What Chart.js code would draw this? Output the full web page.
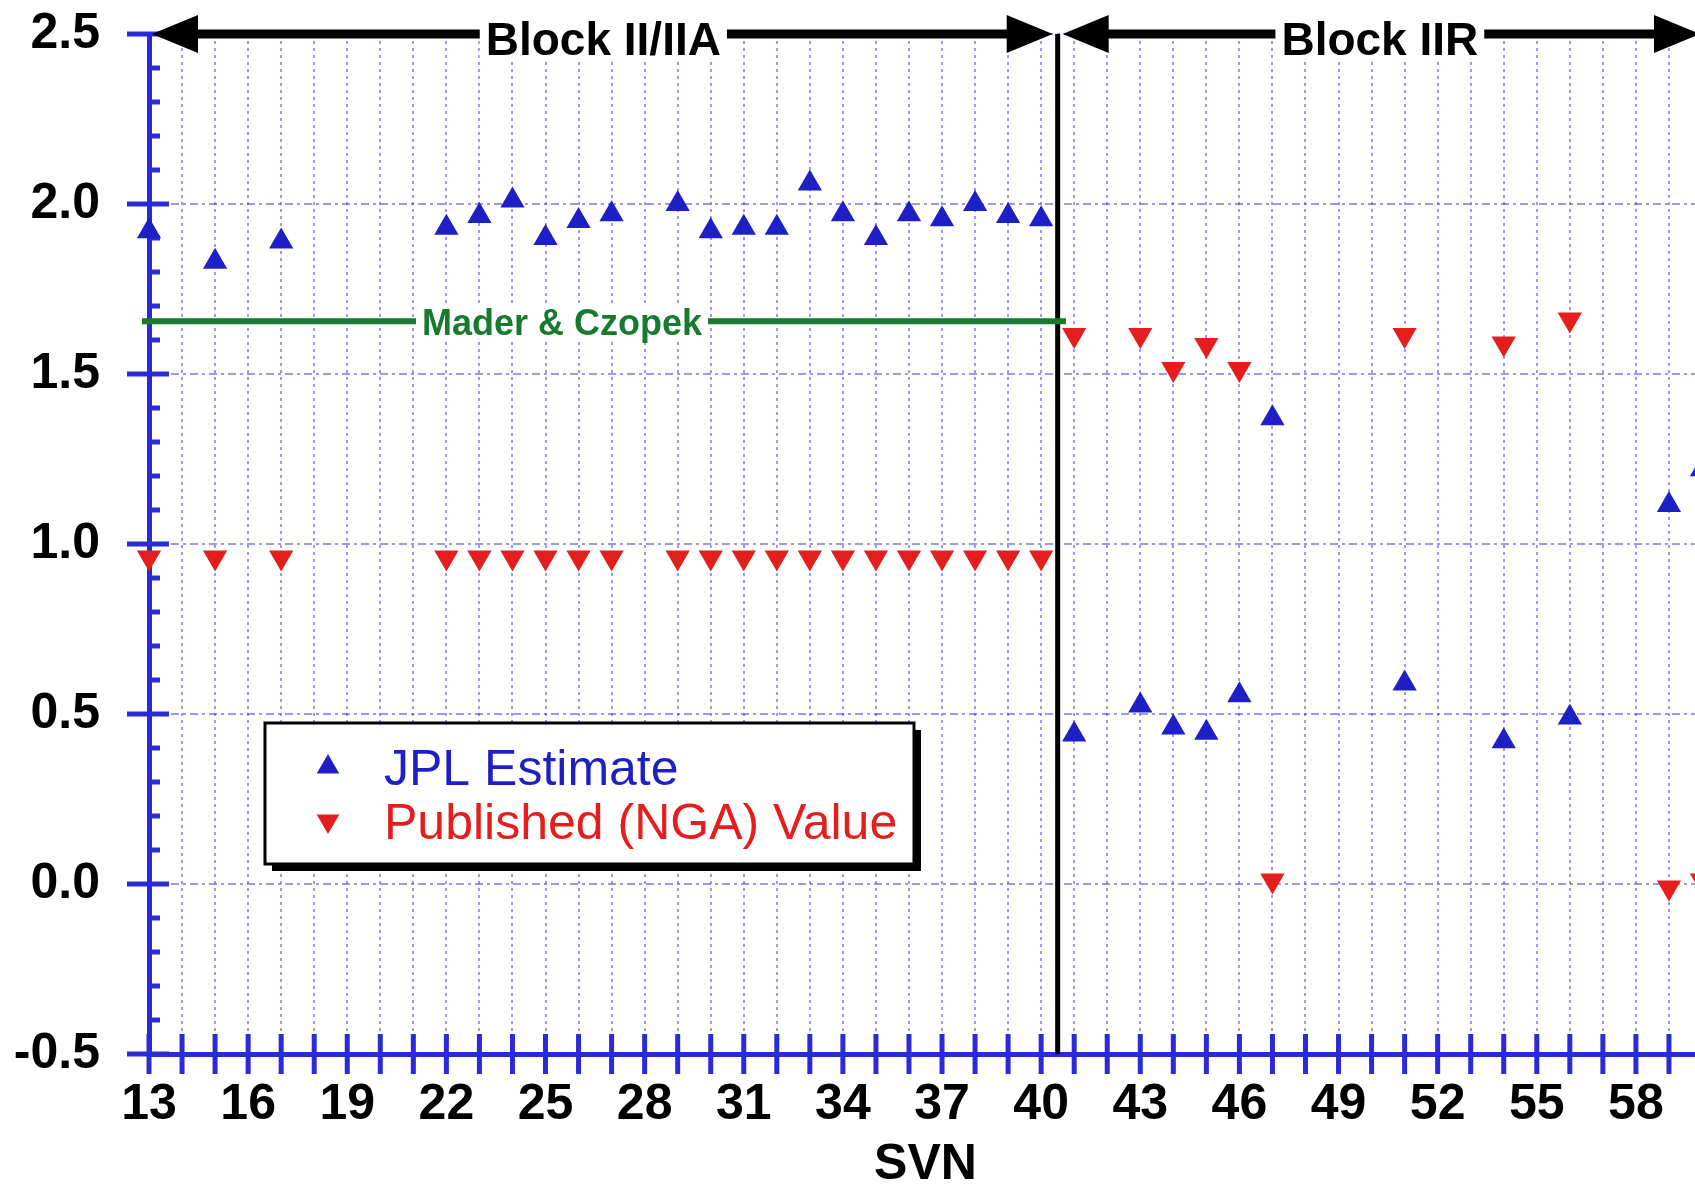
<!DOCTYPE html>
<html>
<head>
<meta charset="utf-8">
<title>Antenna phase-centre offsets by SVN</title>
<script src="https://cdn.jsdelivr.net/npm/chart.js@4/dist/chart.umd.min.js"></script>
<style>
  html, body { margin: 0; padding: 0; background: #ffffff; overflow: hidden; }
  #wrap { width: 1712px; height: 1186px; }
  canvas { display: block; }
</style>
</head>
<body>
<div id="wrap"><canvas id="pco" width="1712" height="1186"></canvas></div>
<script>
// ---- axis ranges and tick labels ----
const svnMin = 13;
const svnMax = 60;
const svnTickLabels = [13, 16, 19, 22, 25, 28, 31, 34, 37, 40, 43, 46, 49, 52, 55, 58];
const zTickValues = [-0.5, 0.0, 0.5, 1.0, 1.5, 2.0, 2.5];

// ---- JPL estimates (m) ----
const jplSvn = [13, 15, 17, 22, 23, 24, 25, 26, 27, 29, 30, 31, 32, 33, 34, 35, 36, 37, 38, 39, 40,
                41, 43, 44, 45, 46, 47, 51, 54, 56, 59, 60];
const jplZ   = [1.92, 1.83, 1.89, 1.93, 1.965, 2.01, 1.90, 1.95, 1.97, 2.00, 1.92, 1.93, 1.93, 2.06, 1.97, 1.90, 1.97, 1.955, 2.00, 1.965, 1.955,
                0.44, 0.525, 0.46, 0.445, 0.555, 1.37, 0.59, 0.42, 0.49, 1.115, 1.22];

// ---- published NGA values (m) ----
const ngaSvn = [13, 15, 17, 22, 23, 24, 25, 26, 27, 29, 30, 31, 32, 33, 34, 35, 36, 37, 38, 39, 40,
                41, 43, 44, 45, 46, 47, 51, 54, 56, 59, 60];
const ngaZ   = [0.96, 0.96, 0.96, 0.96, 0.96, 0.96, 0.96, 0.96, 0.96, 0.96, 0.96, 0.96, 0.96, 0.96, 0.96, 0.96, 0.96, 0.96, 0.96, 0.96, 0.96,
                1.615, 1.615, 1.515, 1.585, 1.515, 0.01, 1.615, 1.59, 1.66, -0.01, 0.01];

// ---- reference level and satellite blocks ----
const maderCzopekZ = 1.655;
const maderCzopekSpan = [13, 40.75];
const maderCzopekLabelAt = 25.5;
const blockBoundary = 40.5;
const blockNames = ['Block II/IIA', 'Block IIR'];
const blockSpans = [[13, 40.5], [40.5, 60]];

// ---- styling ----
const FONT = "'Liberation Sans', Arial, Helvetica, sans-serif";
const AXIS_BLUE = '#2a2ad8';
const GRID_BLUE = 'rgba(70, 70, 225, 0.55)';
const MARK_BLUE = '#1f1fc6';
const MARK_RED = '#e41d1d';
const REF_GREEN = '#177a2d';

function drawArrow(ctx, xa, xb, yy) {
  const head = 46, half = 19;
  ctx.fillStyle = '#000';
  ctx.strokeStyle = '#000';
  ctx.lineWidth = 9;
  ctx.beginPath();
  ctx.moveTo(xa + head - 2, yy);
  ctx.lineTo(xb - head + 2, yy);
  ctx.stroke();
  ctx.beginPath();
  ctx.moveTo(xa, yy); ctx.lineTo(xa + head, yy - half); ctx.lineTo(xa + head, yy + half);
  ctx.closePath(); ctx.fill();
  ctx.beginPath();
  ctx.moveTo(xb, yy); ctx.lineTo(xb - head, yy - half); ctx.lineTo(xb - head, yy + half);
  ctx.closePath(); ctx.fill();
}

function drawBoxedLabel(ctx, text, cx, baseline, font, color) {
  ctx.font = font;
  const m = ctx.measureText(text);
  const w = m.width;
  const top = baseline - m.actualBoundingBoxAscent;
  ctx.fillStyle = '#ffffff';
  ctx.fillRect(cx - w / 2 - 6, top - 3, w + 12, baseline - top + 6);
  ctx.fillStyle = color;
  ctx.textAlign = 'center';
  ctx.textBaseline = 'alphabetic';
  ctx.fillText(text, cx, baseline);
}

// Axis ticks that cross the axis lines, minor ticks, block markers and the reference line
const decorations = {
  id: 'decorations',
  beforeDatasetsDraw(chart) {
    const { ctx, scales: { x, y } } = chart;
    const x0 = x.getPixelForValue(svnMin);
    const yBottom = y.getPixelForValue(zTickValues[0]);
    const yTop = y.getPixelForValue(zTickValues[zTickValues.length - 1]);
    ctx.save();

    ctx.strokeStyle = AXIS_BLUE;
    ctx.lineWidth = 5;
    ctx.lineCap = 'butt';
    ctx.beginPath();
    for (let v = svnMin; v <= svnMax; v++) {
      const px = x.getPixelForValue(v);
      ctx.moveTo(px, yBottom - 20);
      ctx.lineTo(px, yBottom + 20);
    }
    ctx.stroke();

    ctx.beginPath();
    zTickValues.forEach(v => {
      const py = y.getPixelForValue(v);
      ctx.moveTo(x0 - 22, py);
      ctx.lineTo(x0 + 20, py);
    });
    ctx.stroke();

    ctx.beginPath();
    for (let i = 1; i < 30; i++) {
      if (i % 5 === 0) continue;
      const py = y.getPixelForValue(zTickValues[0] + i * 0.1);
      ctx.moveTo(x0, py);
      ctx.lineTo(x0 + 11, py);
    }
    ctx.stroke();

    // boundary between the satellite blocks
    const xb = x.getPixelForValue(blockBoundary);
    ctx.strokeStyle = '#000';
    ctx.lineWidth = 5;
    ctx.beginPath();
    ctx.moveTo(xb, yTop);
    ctx.lineTo(xb, yBottom);
    ctx.stroke();

    // Mader & Czopek level
    const gy = y.getPixelForValue(maderCzopekZ);
    ctx.strokeStyle = REF_GREEN;
    ctx.lineWidth = 6;
    ctx.beginPath();
    ctx.moveTo(x.getPixelForValue(maderCzopekSpan[0]) - 7, gy);
    ctx.lineTo(x.getPixelForValue(maderCzopekSpan[1]), gy);
    ctx.stroke();
    drawBoxedLabel(ctx, 'Mader & Czopek', x.getPixelForValue(maderCzopekLabelAt), gy + 14,
                   `bold 36px ${FONT}`, REF_GREEN);

    // block arrows
    blockSpans.forEach((span, i) => {
      const xa = x.getPixelForValue(span[0]) + (i === 0 ? 3 : 5);
      const xe = x.getPixelForValue(span[1]) - (i === 0 ? 5 : 2);
      drawArrow(ctx, xa, xe, yTop);
      const cx = x.getPixelForValue((span[0] + span[1]) / 2);
      drawBoxedLabel(ctx, blockNames[i], cx, yTop + 21, `bold 46px ${FONT}`, '#000');
    });

    ctx.restore();
  },
  afterDraw(chart) {
    const { ctx } = chart;
    const box = { left: 265, top: 723, width: 649, height: 141 };
    ctx.save();
    ctx.fillStyle = '#000';
    ctx.fillRect(box.left + 7, box.top + 7, box.width, box.height);
    ctx.fillStyle = '#fff';
    ctx.fillRect(box.left, box.top, box.width, box.height);
    ctx.strokeStyle = '#000';
    ctx.lineWidth = 3;
    ctx.strokeRect(box.left, box.top, box.width, box.height);

    ctx.font = `50px ${FONT}`;
    ctx.textAlign = 'left';
    ctx.textBaseline = 'alphabetic';
    chart.data.datasets.forEach((ds, i) => {
      const cy = box.top + 44 + i * 54;
      ctx.fillStyle = ds.backgroundColor;
      ctx.strokeStyle = ds.backgroundColor;
      Chart.helpers.drawPoint(ctx, {
        pointStyle: ds.pointStyle, rotation: ds.pointRotation, radius: 13, borderWidth: 0
      }, box.left + 63, cy);
      ctx.fillStyle = ds.backgroundColor;
      ctx.fillText(ds.label, box.left + 119, cy + 18);
    });
    ctx.restore();
  }
};

const toPoints = (xs, ys) => xs.map((s, i) => ({ x: s, y: ys[i] }));

new Chart(document.getElementById('pco'), {
  type: 'scatter',
  data: {
    datasets: [
      {
        label: 'JPL Estimate',
        data: toPoints(jplSvn, jplZ),
        pointStyle: 'triangle',
        pointRotation: 0,
        pointRadius: 14,
        pointHoverRadius: 14,
        backgroundColor: MARK_BLUE,
        borderColor: MARK_BLUE,
        borderWidth: 0,
        clip: false
      },
      {
        label: 'Published (NGA) Value',
        data: toPoints(ngaSvn, ngaZ),
        pointStyle: 'triangle',
        pointRotation: 180,
        pointRadius: 14,
        pointHoverRadius: 14,
        backgroundColor: MARK_RED,
        borderColor: MARK_RED,
        borderWidth: 0,
        clip: false
      }
    ]
  },
  options: {
    responsive: false,
    animation: false,
    devicePixelRatio: 1,
    events: [],
    layout: { autoPadding: false, padding: { top: 34, right: 10, left: 0, bottom: 0 } },
    plugins: {
      legend: { display: false },
      tooltip: { enabled: false }
    },
    scales: {
      x: {
        type: 'linear',
        min: svnMin,
        max: svnMax,
        afterBuildTicks: s => {
          const t = [];
          for (let v = svnMin; v <= svnMax; v++) t.push({ value: v });
          s.ticks = t;
        },
        afterFit: s => { s.height = 132; },
        // label offset comes from an invisible tick mark so the plot area keeps its full width
        grid: { color: GRID_BLUE, lineWidth: 2, drawTicks: true, tickLength: 21, tickColor: 'rgba(0,0,0,0)', tickWidth: 0 },
        border: { color: AXIS_BLUE, width: 5, dash: [3, 4] },
        ticks: {
          autoSkip: false,
          maxRotation: 0,
          padding: 0,
          color: '#000',
          font: { family: FONT, size: 50, weight: 'bold' },
          callback: v => (svnTickLabels.includes(v) ? String(v) : '')
        },
        title: {
          display: true,
          text: 'SVN',
          color: '#000',
          padding: 0,
          font: { family: FONT, size: 50, weight: 'bold', lineHeight: 0.84 }
        }
      },
      y: {
        type: 'linear',
        min: zTickValues[0],
        max: zTickValues[zTickValues.length - 1],
        afterBuildTicks: s => { s.ticks = zTickValues.map(v => ({ value: v })); },
        afterFit: s => { s.width = 149; },
        grid: { color: GRID_BLUE, lineWidth: 2, drawTicks: true, tickLength: 49, tickColor: 'rgba(0,0,0,0)', tickWidth: 0 },
        border: { color: AXIS_BLUE, width: 5, dash: [8, 4, 3, 4] },
        ticks: {
          padding: 0,
          color: '#000',
          font: { family: FONT, size: 50, weight: 'bold' },
          callback: v => v.toFixed(1)
        }
      }
    }
  },
  plugins: [decorations]
});
</script>
</body>
</html>
